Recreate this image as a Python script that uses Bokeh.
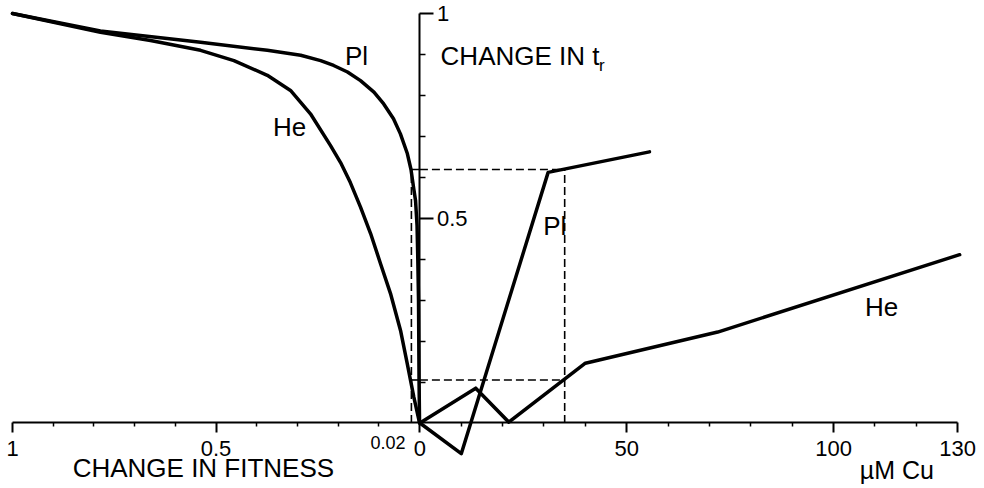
from bokeh.plotting import figure
from bokeh.models import Range1d, LinearAxis, FixedTicker, CustomJSTickFormatter, Label
from bokeh.embed import file_html
from bokeh.resources import INLINE

# ---- data: left panel, change in fitness (1 -> 0) vs change in t_r ----
pl_fit = [1.0, 0.784, 0.538, 0.374, 0.292, 0.243, 0.211, 0.177, 0.145, 0.112, 0.088,
          0.064, 0.047, 0.030, 0.021, 0.0147, 0.0098, 0.0061, 0.0042, 0.0025, 0.0012, 0.0]
pl_fit_tr = [1.0, 0.957, 0.930, 0.910, 0.898, 0.885, 0.873, 0.857, 0.836, 0.808, 0.779,
             0.743, 0.706, 0.658, 0.619, 0.575, 0.543, 0.482, 0.397, 0.299, 0.104, 0.0]
he_fit = [1.0, 0.784, 0.661, 0.538, 0.456, 0.374, 0.317, 0.268, 0.219, 0.194, 0.170,
          0.145, 0.120, 0.0958, 0.0713, 0.0467, 0.0302, 0.0140, 0.0]
he_fit_tr = [1.0, 0.954, 0.934, 0.910, 0.885, 0.849, 0.812, 0.755, 0.678, 0.636, 0.587,
             0.527, 0.462, 0.389, 0.316, 0.226, 0.145, 0.063, 0.0]

# ---- data: right panel, µM Cu vs change in t_r ----
pl_cu = [0, 10, 31, 55.5]
pl_cu_tr = [0, -0.075, 0.612, 0.662]
he_cu = [0, 13.5, 21.5, 40, 72, 130.5]
he_cu_tr = [0, 0.085, 0.002, 0.146, 0.222, 0.411]

# ---- read-off guides (dashed) ----
guide_fit = 0.02
guide_cu = 35
guide_pl_tr = 0.619
guide_he_tr = 0.105

# ---- ticks ----
fit_major = [1, 0.5]
fit_minor = [0.9, 0.8, 0.7, 0.6, 0.4, 0.3, 0.2, 0.1]
cu_major = [0, 50, 100, 130]
cu_minor = [10, 20, 30, 40, 60, 70, 80, 90, 110, 120]
tr_major = [0.5, 1]
tr_minor = [0.1, 0.2, 0.3, 0.4, 0.6, 0.7, 0.8, 0.9]

FONT = "Liberation Sans"
INK = "black"

p = figure(width=984, height=488,
           x_range=Range1d(-101.4, 136.5), y_range=Range1d(-0.16, 1.0317),
           output_backend="svg", toolbar_location=None,
           x_axis_location=None, y_axis_location=None, min_border=0,
           outline_line_color=None, background_fill_color="white",
           border_fill_color="white")
p.extra_x_ranges = {"fit": Range1d(1.0295, -1.388)}
p.grid.visible = False

fmt = CustomJSTickFormatter(code="return String(tick)")


def style(ax, major_out, minor_out):
    ax.axis_line_color = INK
    ax.axis_line_width = 2
    ax.major_tick_line_color = INK
    ax.minor_tick_line_color = INK
    ax.major_tick_line_width = 2
    ax.minor_tick_line_width = 1.5
    ax.major_tick_in = 0
    ax.minor_tick_in = 0
    ax.major_tick_out = major_out
    ax.minor_tick_out = minor_out
    ax.major_label_text_font = FONT
    ax.major_label_text_font_size = "22px"
    ax.major_label_text_color = INK
    ax.major_label_standoff = 8


fit_axis = LinearAxis(x_range_name="fit", fixed_location=0, bounds=(0, 1),
                      ticker=FixedTicker(ticks=fit_major, minor_ticks=fit_minor),
                      formatter=fmt)
style(fit_axis, 10, 4)
cu_axis = LinearAxis(fixed_location=0, bounds=(0, 130),
                     ticker=FixedTicker(ticks=cu_major, minor_ticks=cu_minor),
                     formatter=fmt)
style(cu_axis, 10, 4)
tr_axis = LinearAxis(fixed_location=0, bounds=(0, 1),
                     ticker=FixedTicker(ticks=tr_major, minor_ticks=tr_minor),
                     formatter=fmt)
style(tr_axis, 14, 6)
tr_axis.major_label_standoff = 3
p.add_layout(fit_axis, "below")
p.add_layout(cu_axis, "below")
p.add_layout(tr_axis, "right")

# dashed read-off lines
dash = dict(line_color=INK, line_width=1.6, line_dash="8 4")
p.segment(x0=[guide_fit], y0=[0], x1=[guide_fit], y1=[guide_pl_tr], x_range_name="fit", **dash)
p.segment(x0=[guide_fit, guide_fit], y0=[guide_pl_tr, guide_he_tr],
          x1=[0, 0], y1=[guide_pl_tr, guide_he_tr], x_range_name="fit", **dash)
p.segment(x0=[0, 0], y0=[guide_pl_tr, guide_he_tr],
          x1=[guide_cu, guide_cu], y1=[guide_pl_tr, guide_he_tr], **dash)
p.segment(x0=[guide_cu], y0=[0], x1=[guide_cu], y1=[guide_pl_tr], **dash)

# curves
curve = dict(line_color=INK, line_width=3.5, line_join="round", line_cap="round")
p.line(pl_fit, pl_fit_tr, x_range_name="fit", **curve)
p.line(he_fit, he_fit_tr, x_range_name="fit", **curve)
p.line(pl_cu, pl_cu_tr, **curve)
p.line(he_cu, he_cu_tr, **curve)


def lab(text, x, y, size, align="center", baseline="middle", rng="default"):
    p.add_layout(Label(x=x, y=y, text=text, x_range_name=rng, text_font=FONT,
                       text_font_size=size, text_color=INK, text_align=align,
                       text_baseline=baseline, text_font_style="normal"))


lab("Pl", 0.155, 0.895, "26px", rng="fit")
lab("He", 0.319, 0.722, "26px", rng="fit")
lab("Pl", 32.6, 0.482, "26px")
lab("He", 111.6, 0.283, "26px")
lab("CHANGE IN FITNESS", 0.531, -0.110, "26px", rng="fit")
lab("µM Cu", 115.3, -0.114, "25px")
lab("CHANGE IN t", 5.0, 0.897, "26px", align="left")
lab("r", 43.3, 0.874, "17px", align="left")
lab("0.02", 0.0344, -0.0476, "18px", align="right", rng="fit")

open("out.html", "w").write(file_html(p, INLINE))
